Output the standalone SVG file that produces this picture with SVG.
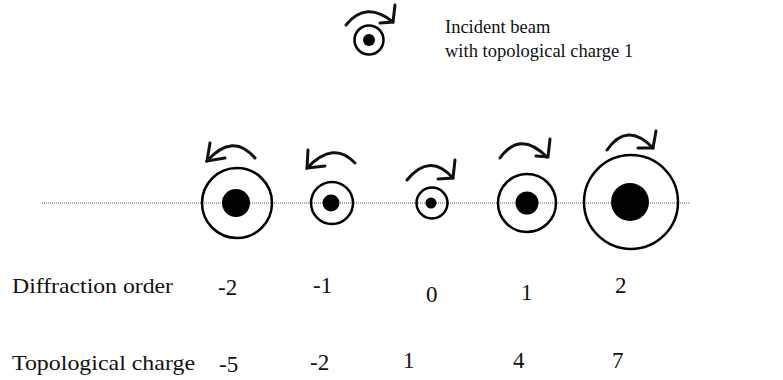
<svg xmlns="http://www.w3.org/2000/svg" width="783" height="380" viewBox="0 0 783 380">
<style>
.ring{fill:none;stroke:#000;stroke-width:2.5}
.core{fill:#000}
.rot{fill:none;stroke:#111;stroke-width:3;stroke-linecap:round;stroke-linejoin:miter}
.axis{stroke:#555;stroke-width:1;stroke-dasharray:1 1;fill:none}
text{font-family:'Liberation Serif','Tinos','Times New Roman','DejaVu Serif',serif;fill:#111}
.lbl{font-size:22px}
.num{font-size:23px}
.inc{font-size:18.5px}
</style>
<rect width="783" height="380" fill="#fff"/>
<g id="connectors">
<line class="axis" x1="42" y1="203" x2="690" y2="203"/>
</g>
<g id="incident">
<circle class="ring" cx="369" cy="40" r="14.5"/>
<circle class="core" cx="369" cy="40" r="6"/>
<path class="rot" d="M346,25 Q366,0 393,22"/>
<path class="rot" d="M395,5 L393,22 L380,23"/>
<text class="inc" x="445" y="33">Incident beam</text>
<text class="inc" x="445" y="57">with topological charge 1</text>
</g>
<g id="order-m2">
<circle class="ring" cx="237" cy="203" r="35"/>
<circle class="core" cx="236" cy="203" r="14"/>
<path class="rot" d="M255,158 Q233,132 207,161"/>
<path class="rot" d="M210,143 L207,161 L225,158"/>
</g>
<g id="order-m1">
<circle class="ring" cx="332" cy="203" r="21"/>
<circle class="core" cx="331" cy="203" r="8.5"/>
<path class="rot" d="M355,163 Q334,140 307,168"/>
<path class="rot" d="M308,150 L307,168 L325,166"/>
</g>
<g id="order-0">
<circle class="ring" cx="432" cy="203" r="15.5"/>
<circle class="core" cx="431" cy="203" r="5.5"/>
<path class="rot" d="M407,180 Q430,152 453,178"/>
<path class="rot" d="M455,160 L453,178 L438,179"/>
</g>
<g id="order-p1">
<circle class="ring" cx="527" cy="203" r="29"/>
<circle class="core" cx="527" cy="203" r="11.5"/>
<path class="rot" d="M500,158 Q520,130 547,157"/>
<path class="rot" d="M550,139 L548,157 L536,156"/>
</g>
<g id="order-p2">
<circle class="ring" cx="631" cy="202" r="47"/>
<circle class="core" cx="630" cy="202" r="19"/>
<path class="rot" d="M607,150 Q627,121 653,148"/>
<path class="rot" d="M656,131 L653,148 L638,148"/>
</g>
<g id="labels">
<text class="lbl" x="12" y="293" textLength="161" lengthAdjust="spacingAndGlyphs">Diffraction order</text>
<text class="lbl" x="12" y="370" textLength="183" lengthAdjust="spacingAndGlyphs">Topological charge</text>
<text class="num" x="218" y="295">-2</text>
<text class="num" x="313" y="293">-1</text>
<text class="num" x="426" y="302">0</text>
<text class="num" x="521" y="300">1</text>
<text class="num" x="615" y="293">2</text>
<text class="num" x="219" y="372">-5</text>
<text class="num" x="310" y="370">-2</text>
<text class="num" x="403" y="368">1</text>
<text class="num" x="513" y="368">4</text>
<text class="num" x="612" y="368">7</text>
</g>
</svg>
